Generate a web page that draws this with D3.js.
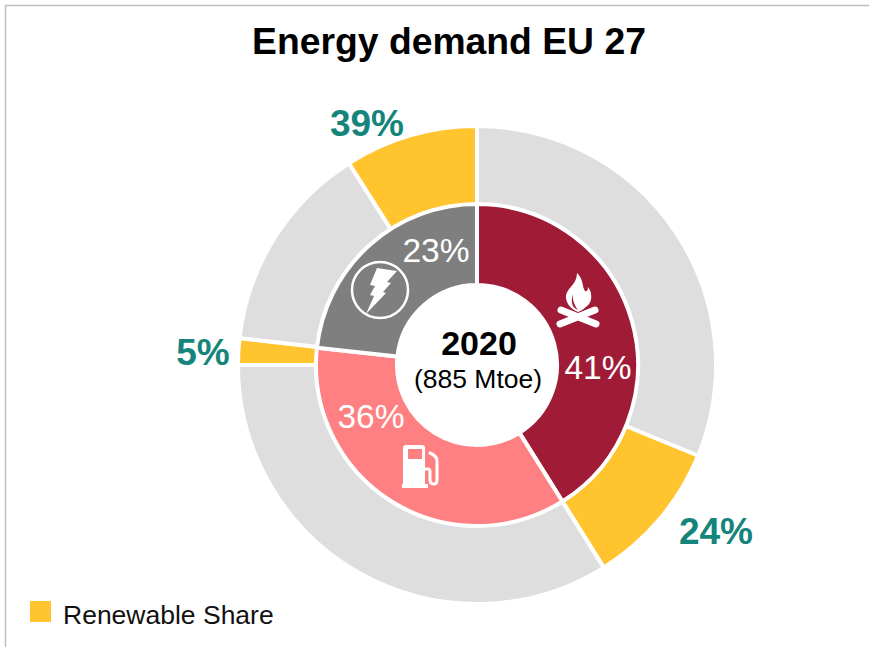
<!DOCTYPE html>
<html>
<head>
    <title>Energy demand EU 27</title>
    <style>
        html, body { margin: 0; padding: 0; background: #fff; }
        svg { display: block; }
        text { font-family: "Liberation Sans", Arial, sans-serif; }
    </style>
</head>
<body>
    <svg id="chart" width="869" height="647"></svg>

    <script src="https://d3js.org/d3.v7.min.js"></script>
    <script>
        // Inner ring: share of final demand per sector (%)
        const sectors = ['Heat', 'Transport', 'Electricity'];
        const sectorValues = [41.1, 35.6, 23.3];
        const sectorLabels = ['41%', '36%', '23%'];
        const sectorColors = ['#a01c36', '#ff8082', '#7f7f7f'];

        // Outer ring: other / renewable part of each sector, same total as inner ring
        const outerParts = ['other', 'renewable', 'other', 'renewable', 'other', 'renewable'];
        const outerValues = [31.2, 9.9, 33.9, 1.8, 14.2, 9.0];
        const renewableLabels = ['24%', '5%', '39%'];

        const svg = d3.select('#chart');
        const cx = 477, cy = 365;

        // frame of the original picture, top and left only
        svg.append('path')
            .attr('d', 'M5.5,647V5.5H869')
            .attr('fill', 'none')
            .attr('stroke', '#bfbfbf')
            .attr('stroke-width', 1.5);

        svg.append('text')
            .attr('x', 449).attr('y', 54)
            .attr('text-anchor', 'middle')
            .attr('font-size', 37.3)
            .attr('font-weight', 'bold')
            .attr('fill', '#000')
            .text('Energy demand EU 27');

        const pie = d3.pie().sort(null);
        const chart = svg.append('g').attr('transform', `translate(${cx},${cy})`);

        const outerArc = d3.arc().innerRadius(160).outerRadius(239);
        chart.append('g')
            .selectAll('path')
            .data(pie(outerValues))
            .join('path')
            .attr('d', outerArc)
            .attr('fill', (d, i) => outerParts[i] === 'renewable' ? '#ffc42e' : '#dedede')
            .attr('stroke', '#fff')
            .attr('stroke-width', 4);

        const innerArc = d3.arc().innerRadius(80).outerRadius(161);
        chart.append('g')
            .selectAll('path')
            .data(pie(sectorValues))
            .join('path')
            .attr('d', innerArc)
            .attr('fill', (d, i) => sectorColors[i])
            .attr('stroke', '#fff')
            .attr('stroke-width', 4);

        // inner ring percentages
        const innerLabelPos = [[121, 14], [-106, 63], [-41, -103]];
        chart.append('g')
            .selectAll('text')
            .data(sectorLabels)
            .join('text')
            .attr('x', (d, i) => innerLabelPos[i][0])
            .attr('y', (d, i) => innerLabelPos[i][1])
            .attr('text-anchor', 'middle')
            .attr('font-size', 33.5)
            .attr('fill', '#fff')
            .text(d => d);

        // renewable share percentages
        const outerLabelPos = [[239, 179], [-274, 0], [-110, -229]];
        chart.append('g')
            .selectAll('text')
            .data(renewableLabels)
            .join('text')
            .attr('x', (d, i) => outerLabelPos[i][0])
            .attr('y', (d, i) => outerLabelPos[i][1])
            .attr('text-anchor', 'middle')
            .attr('font-size', 37)
            .attr('font-weight', 'bold')
            .attr('fill', '#15847a')
            .text(d => d);

        // centre text
        chart.append('text')
            .attr('x', 2).attr('y', -10).attr('text-anchor', 'middle')
            .attr('font-size', 34).attr('font-weight', 'bold')
            .text('2020');
        chart.append('text')
            .attr('x', 1).attr('y', 23).attr('text-anchor', 'middle')
            .attr('font-size', 26.5)
            .text('(885 Mtoe)');

        // flame and logs icon
        const fire = chart.append('g').attr('transform', 'translate(101,-65)').attr('fill', '#fff');
        fire.append('path')
            .attr('d', 'M-1,-27 C6,-20 4,-13 7,-9 C9,-8 10,-10 10,-13 C15,-7 14,3 9,6 C6,9 3,11 0,12 C-7,9 -13,3 -12,-5 C-10,-13 -1,-16 -1,-27 Z');
        fire.append('path')
            .attr('d', 'M-5,-6 C-6,0 -3,6 0,10 C-5,8 -8,3 -5,-6 Z')
            .attr('fill', '#a01c36');
        fire.append('line')
            .attr('x1', -17).attr('y1', 10).attr('x2', 18).attr('y2', 24)
            .attr('stroke', '#fff').attr('stroke-width', 7).attr('stroke-linecap', 'round');
        fire.append('line')
            .attr('x1', 17).attr('y1', 10).attr('x2', -18).attr('y2', 24)
            .attr('stroke', '#fff').attr('stroke-width', 7).attr('stroke-linecap', 'round');

        // fuel pump icon
        const pump = chart.append('g').attr('transform', 'translate(-56,101)');
        pump.append('path')
            .attr('fill', '#fff')
            .attr('fill-rule', 'evenodd')
            .attr('d', 'M-18,-18 Q-18,-21 -15,-21 H1 Q4,-21 4,-18 V18 H7 V22 H-19 V18 H-18 Z M-13,-17 V-7 H1 V-17 Z');
        pump.append('path')
            .attr('fill', 'none')
            .attr('stroke', '#fff')
            .attr('stroke-width', 3)
            .attr('stroke-linecap', 'round')
            .attr('stroke-linejoin', 'round')
            .attr('d', 'M4,3 H7 Q9,3 9,6 V14 Q9,18 13,18 Q16,18 16,14 V-5 Q16,-10 9,-13');

        // lightning bolt in a circle
        const bolt = chart.append('g').attr('transform', 'translate(-97,-75)');
        bolt.append('circle')
            .attr('r', 28)
            .attr('fill', 'none')
            .attr('stroke', '#fff')
            .attr('stroke-width', 2.5);
        bolt.append('path')
            .attr('fill', '#fff')
            .attr('d', 'M-3,-22 L17,-19 L7,-8 L11,-7 L3,2 L6,3 L-14,24 L-6,6 L-10,5 L-5,-4 L-10,-5 Z');

        // legend
        const legend = svg.append('g');
        legend.append('rect')
            .attr('x', 30).attr('y', 601)
            .attr('width', 21).attr('height', 21)
            .attr('fill', '#ffc42e');
        legend.append('text')
            .attr('x', 63).attr('y', 624)
            .attr('font-size', 26.5)
            .attr('fill', '#111')
            .text('Renewable Share');
    </script>
</body>
</html>
